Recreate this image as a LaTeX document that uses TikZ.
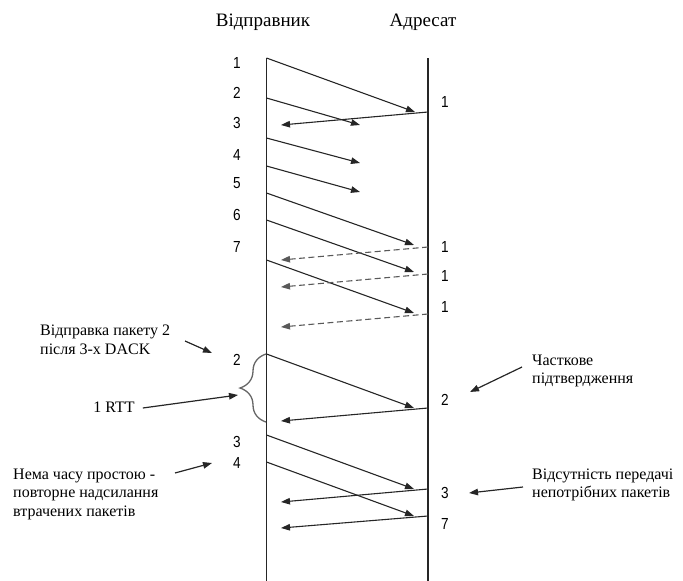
\documentclass[tikz,border=0pt]{standalone}
\usepackage{fontspec}
\setmainfont{Liberation Serif}
\newfontfamily\digitfont[FakeStretch=0.85]{Liberation Sans}
\usetikzlibrary{arrows.meta,decorations.pathreplacing}

\begin{document}
\begin{tikzpicture}[x=1pt,y=-1pt,
  timeline/.style={line width=1.3pt, draw=black!85},
  msg/.style={line width=1.1pt, draw=black!85, -{Triangle[length=9pt,width=6.5pt]}},
  dmsg/.style={msg, draw=black!65, dash pattern=on 6pt off 3.5pt},
  num/.style={font=\digitfont\fontsize{16}{16}\selectfont, inner sep=0pt},
  head/.style={font=\fontsize{19}{22}\selectfont, inner sep=0pt},
  note/.style={font=\fontsize{16}{18.5}\selectfont, align=left, inner sep=0pt, anchor=west},
  pointer/.style={line width=1.2pt, draw=black!85, -{Triangle[length=9pt,width=6.5pt]}},
  bracestyle/.style={line width=1.3pt, draw=black!60, decorate, decoration={brace, amplitude=26pt}}
]
\useasboundingbox (0,0) rectangle (683,581);

% sender and receiver time axes
\coordinate (s0) at (266.5,58);  \coordinate (s1) at (266.5,581);
\coordinate (r0) at (428,58);    \coordinate (r1) at (428,581);
\draw[timeline] (s0) -- (s1);
\draw[timeline] (r0) -- (r1);

\node[head] (hs) at (263,22) {Відправник};
\node[head] (hr) at (423,22) {Адресат};

% packet numbers on the sender side
\foreach \k/\y/\t in {a/63/1, b/93/2, c/123/3, d/155/4, e/183/5, f/215/6, g/247/7,
                      h/360/2, i/442/3, j/463/4}
  \node[num] (sn\k) at (237,\y) {\t};

% acknowledgement numbers on the receiver side
\foreach \k/\y/\t in {a/102/1, b/247/1, c/276/1, d/307/1, e/400/2, f/493/3, g/524/7}
  \node[num] (rn\k) at (445,\y) {\t};

% data segments
\foreach \k/\ys/\xe/\ye in {1/58/415/112, 2/98/360/125, 3/138/360/163, 4/166/360/192,
                            5/193/414/245, 6/220/414/272, 7/260/414/313,
                            8/354/414/408, 9/435/414/489, 10/462/414/516} {
  \coordinate (seg\k) at (266.5,\ys);
  \coordinate (arr\k) at (\xe,\ye);
  \draw[msg] (seg\k) -- (arr\k);
}

% acknowledgements
\foreach \k/\ys/\ye in {1/112/125, 2/408/421, 3/489/502, 4/516/528} {
  \coordinate (ack\k) at (428,\ys);
  \coordinate (got\k) at (281,\ye);
  \draw[msg] (ack\k) -- (got\k);
}

% duplicate acknowledgements
\foreach \k/\ys/\ye in {1/247/260, 2/274/287, 3/314/327} {
  \coordinate (dack\k) at (428,\ys);
  \coordinate (dgot\k) at (281,\ye);
  \draw[dmsg] (dack\k) -- (dgot\k);
}

% one round-trip time
\coordinate (brb) at (266,422);
\coordinate (brt) at (266,354);
\draw[bracestyle] (brb) -- (brt);

% annotations
\node[note] (n1) at (40,340) {Відправка пакету 2\\після 3-х DACK};
\node[note, anchor=center] (n2) at (114,407) {1 RTT};
\node[note] (n3) at (13,494) {Нема часу простою -\\повторне надсилання\\втрачених пакетів};
\node[note] (n4) at (532,371) {Часткове\\підтвердження};
\node[note] (n5) at (532,485) {Відсутність передачі\\непотрібних пакетів};

\coordinate (t1) at (212,353);
\coordinate (t2) at (238,395);
\coordinate (t3) at (212,463);
\coordinate (t4) at (470,392);
\coordinate (t5) at (469,493);
\draw[pointer] (185,341) -- (t1);
\draw[pointer] (n2.east) ++(8,1) -- (t2);
\draw[pointer] (175,473) -- (t3);
\draw[pointer] (522,367) -- (t4);
\draw[pointer] (523,487) -- (t5);
\end{tikzpicture}
\end{document}
